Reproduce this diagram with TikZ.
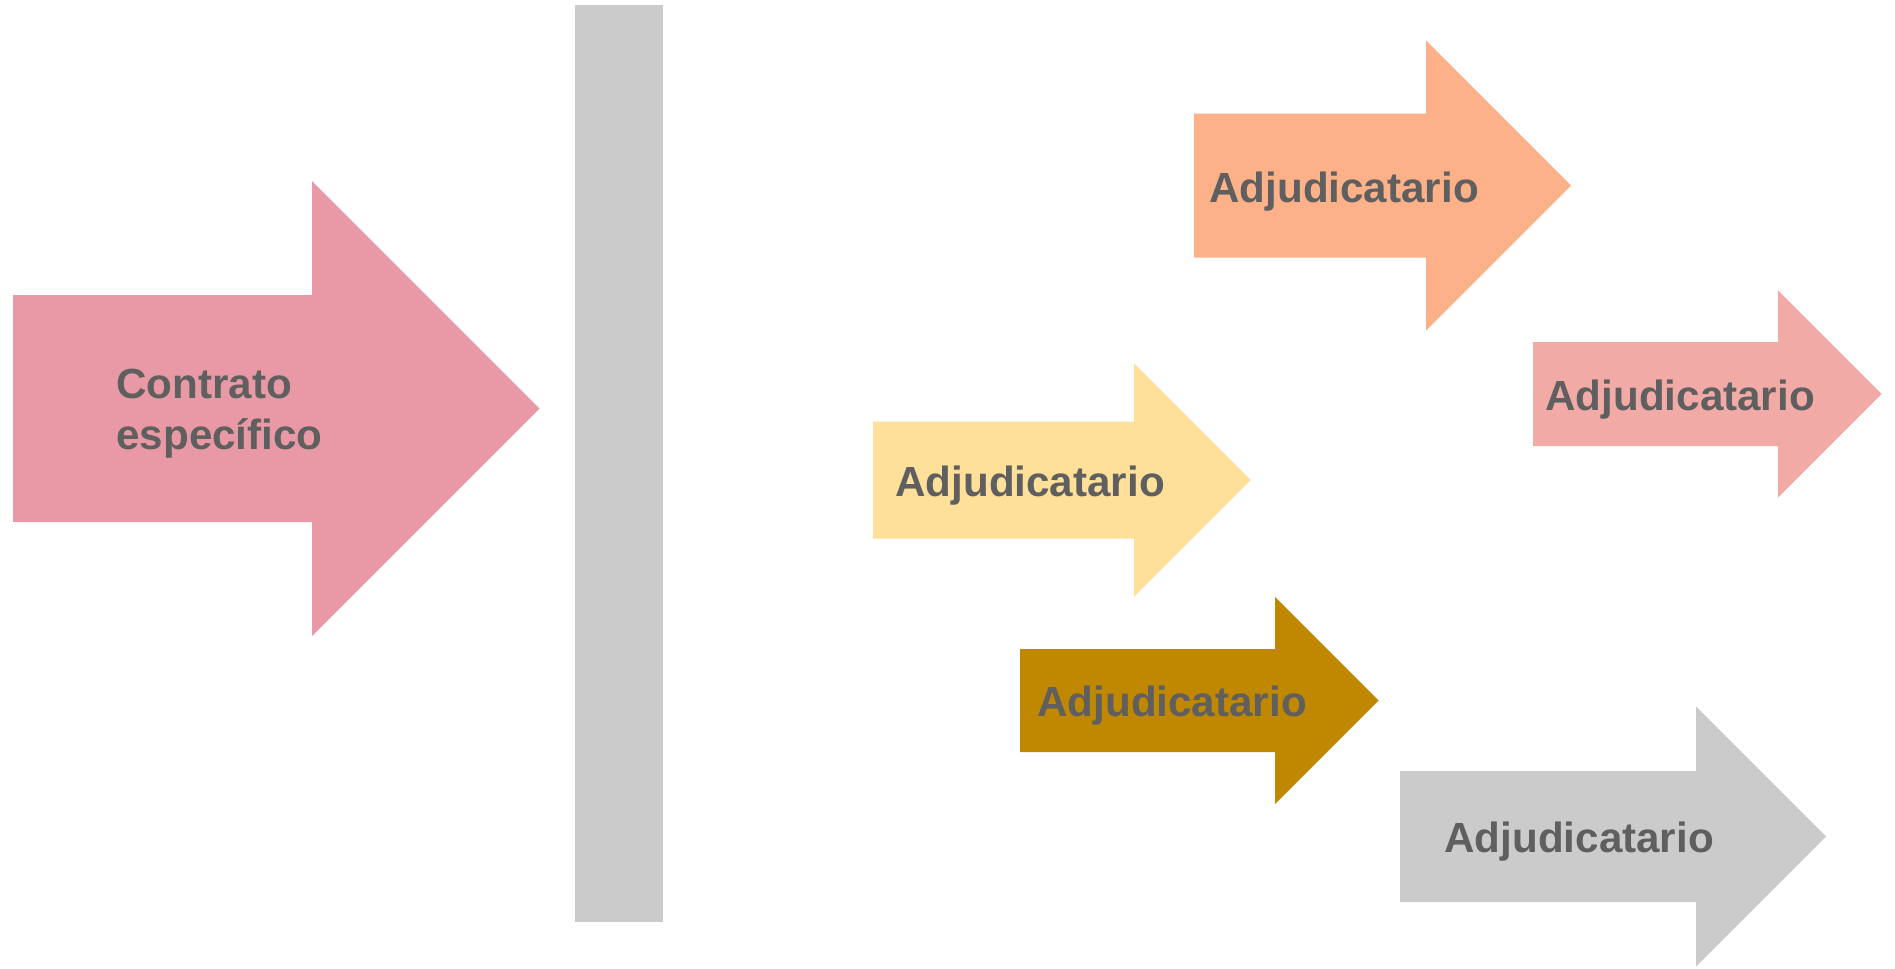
\documentclass[tikz,border=0pt]{standalone}
\usepackage{fontspec}
\setmainfont{Liberation Sans}
\usepackage{tikz}
\usepackage{xcolor}
\usetikzlibrary{positioning}
\definecolor{rosa}{HTML}{E899A5}
\definecolor{barra}{HTML}{CBCBCB}
\definecolor{naranja}{HTML}{FDB189}
\definecolor{salmon}{HTML}{F2AAA6}
\definecolor{amarillo}{HTML}{FEE09A}
\definecolor{ocre}{HTML}{C08800}
\definecolor{gris}{HTML}{CBCBCB}
\definecolor{texto}{HTML}{5F5F5F}
% #1 colour, #2 left, #3 neck, #4 centre y, #5 shaft half, #6 head half
\newcommand{\flecha}[6]{%
  \fill[#1] (#2,#4-#5) -- (#3,#4-#5) -- (#3,#4-#6) -- (#3+#6,#4)
    -- (#3,#4+#6) -- (#3,#4+#5) -- (#2,#4+#5) -- cycle;}
\tikzset{
  etiqueta/.style={anchor=base west, inner sep=0pt, text=texto,
    font=\fontsize{24}{29}\selectfont\bfseries}
}

\begin{document}
\begin{tikzpicture}[x=0.02cm, y=-0.02cm]
  \useasboundingbox (0,0) rectangle (1895,968);
  % arrows
  \flecha{rosa}{13}{312}{408.5}{113.5}{227.5}
  \fill[barra] (575,5) rectangle (663,922);
  \flecha{naranja}{1194}{1426}{185.5}{72}{145}
  \flecha{salmon}{1533}{1778}{394}{52}{103.5}
  \flecha{amarillo}{873}{1134}{480}{58.5}{116.5}
  \flecha{ocre}{1020}{1275}{700.5}{51.5}{103.5}
  \flecha{gris}{1400}{1696}{836.5}{65.5}{130}
  % labels
  \node[etiqueta, align=left] (contrato) at (116,449) {Contrato\\específico};
  \node[etiqueta] (adj1) at (1209,202) {Adjudicatario};
  \node[etiqueta] (adj2) at (1545,410) {Adjudicatario};
  \node[etiqueta] (adj3) at (895,496) {Adjudicatario};
  \node[etiqueta] (adj4) at (1037,716) {Adjudicatario};
  \node[etiqueta] (adj5) at (1444,852) {Adjudicatario};
\end{tikzpicture}
\end{document}
